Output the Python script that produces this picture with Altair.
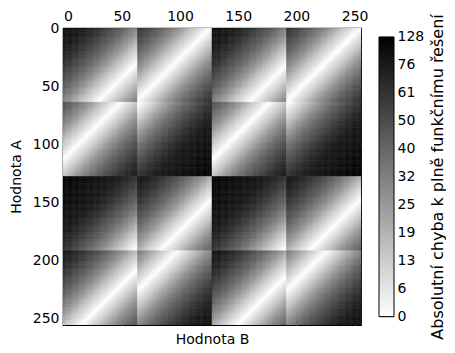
import json
import altair as alt
import pandas as pd

# ---- data -----------------------------------------------------------------
axis_ticks = [0, 50, 100, 150, 200, 250]
# the image is made of 4 x 4 blocks of 64 x 64 values
block_starts = [0, 64, 128, 192]
block_size = 64
cell = 2  # reading resolution (values per cell side), diagonal step = 2

# absolute error read along each block's diagonal, one value per step of
# (a_local + b_local) = 0-1, 2-3, ..., 126-127  (error is constant along "/" lines)
p_a = [92,90,88,86,84,82,80,78,76,74,72,70,68,66,64,62,60,58,56,54,52,50,48,46,44,42,40,38,36,34,32,30,28,26,24,22,20,18,16,14,12,10,8,6,4,2,0,2,4,6,8,10,12,14,16,18,20,22,24,26,28,30,32,34]
p_b = [61,59,57,55,53,51,49,47,45,43,41,39,37,35,33,31,29,27,25,23,21,19,17,15,13,11,9,7,5,3,1,1,3,5,7,9,11,13,15,17,19,21,23,25,27,29,31,33,35,37,39,41,43,45,47,49,51,53,55,57,59,61,63,65]
p_c = [94,92,90,88,86,84,82,80,78,76,74,72,70,68,66,64,62,60,58,56,54,52,50,48,46,44,42,40,38,36,34,32,30,28,26,24,22,20,18,16,14,12,10,8,6,4,2,0,2,4,6,8,10,12,14,16,18,20,22,24,26,28,30,32]
p_d = [62,60,58,56,54,52,50,48,46,44,42,40,38,36,34,32,30,28,26,24,22,20,18,16,14,12,10,8,6,4,2,0,2,4,6,8,10,12,14,16,18,20,22,24,26,28,30,32,34,36,38,40,42,44,46,48,50,52,54,56,58,60,62,64]
p_e = [48,46,44,42,40,38,36,34,32,30,28,26,24,22,20,18,16,14,12,10,8,6,4,2,0,2,4,6,8,10,12,14,16,18,20,22,24,26,28,30,32,34,36,38,40,42,44,46,48,50,52,54,56,58,60,62,64,66,68,70,72,74,76,78]
p_f = [1,1,3,5,7,9,11,13,15,17,19,21,23,25,27,29,31,33,35,37,39,41,43,45,47,49,51,53,55,57,59,61,63,65,67,69,71,73,75,77,79,81,83,85,87,89,91,93,95,97,99,101,103,105,107,109,111,113,115,117,119,121,123,125]
p_g = [123,121,119,117,115,113,111,109,107,105,103,101,99,97,95,93,91,89,87,85,83,81,79,77,75,73,71,69,67,65,63,61,59,57,55,53,51,49,47,45,43,41,39,37,35,33,31,29,27,25,23,21,19,17,15,13,11,9,7,5,3,1,1,3]
p_h = [82,80,78,76,74,72,70,68,66,64,62,60,58,56,54,52,50,48,46,44,42,40,38,36,34,32,30,28,26,24,22,20,18,16,14,12,10,8,6,4,2,0,2,4,6,8,10,12,14,16,18,20,22,24,26,28,30,32,34,36,38,40,42,44]
p_i = [78,76,74,72,70,68,66,64,62,60,58,56,54,52,50,48,46,44,42,40,38,36,34,32,30,28,26,24,22,20,18,16,14,12,10,8,6,4,2,0,2,4,6,8,10,12,14,16,18,20,22,24,26,28,30,32,34,36,38,40,42,44,46,48]
p_j = [33,31,29,27,25,23,21,19,17,15,13,11,9,7,5,3,1,1,3,5,7,9,11,13,15,17,19,21,23,25,27,29,31,33,35,37,39,41,43,45,47,49,51,53,55,57,59,61,63,65,67,69,71,73,75,77,79,81,83,85,87,89,91,93]
p_k = [84,82,80,78,76,74,72,70,68,66,64,62,60,58,56,54,52,50,48,46,44,42,40,38,36,34,32,30,28,26,24,22,20,18,16,14,12,10,8,6,4,2,0,2,4,6,8,10,12,14,16,18,20,22,24,26,28,30,32,34,36,38,40,42]

# rows: Hodnota A blocks 0-63, 64-127, 128-191, 192-255; columns: Hodnota B blocks
block_profiles = [
    [p_a, p_b, p_c, p_d],
    [p_e, p_f, p_e, p_f],
    [p_g, p_h, p_g, p_h],
    [p_i, p_j, p_k, p_j],
]

# colour bar (equally spaced labels)
cbar_values = [0, 6, 13, 19, 25, 32, 40, 50, 61, 76, 128]
cbar_labels = [str(v) for v in cbar_values]
cbar_greys = ["#ffffff", "#e6e6e6", "#cccccc", "#b3b3b3", "#999999", "#808080",
              "#666666", "#4d4d4d", "#333333", "#1a1a1a", "#000000"]

# ---- table: one cell per reading step ---------------------------------------
n = block_size // cell
rows = []
for r, a_start in enumerate(block_starts):
    for c, b_start in enumerate(block_starts):
        prof = block_profiles[r][c]
        for i in range(n):
            for j in range(n):
                a0 = a_start + i * cell - 0.5
                b0 = b_start + j * cell - 0.5
                rows.append({"a0": a0, "a1": a0 + cell, "b0": b0, "b1": b0 + cell,
                             "v": prof[min(i + j, len(prof) - 1)]})
cells = pd.DataFrame(rows)
tick_df = pd.DataFrame({"t": axis_ticks})

FONT = "DejaVu Sans"
xs = alt.Scale(domain=[-0.5, 255.5], nice=False, zero=False)
ys = alt.Scale(domain=[-0.5, 255.5], nice=False, zero=False, reverse=True)
cscale = alt.Scale(type="linear", domain=cbar_values, range=cbar_greys, interpolate="rgb")

heat = alt.Chart(cells).mark_rect(strokeWidth=0.5, clip=True).encode(
    x=alt.X("b0:Q", scale=xs, axis=alt.Axis(orient="top", values=axis_ticks, title=None,
                                            ticks=False, domain=False, labelPadding=5,
                                            labelFontSize=14, labelFont=FONT, labelColor="black")),
    x2="b1:Q",
    y=alt.Y("a0:Q", scale=ys, axis=alt.Axis(orient="left", values=axis_ticks, title="Hodnota A",
                                            ticks=False, domain=False, labelPadding=4,
                                            labelFontSize=14, labelFont=FONT, labelColor="black",
                                            titleFontSize=14, titleFont=FONT, titleFontWeight="normal",
                                            titleColor="black", titlePadding=9)),
    y2="a1:Q",
    color=alt.Color("v:Q", scale=cscale, legend=None),
    stroke=alt.Stroke("v:Q", scale=cscale, legend=None),
)

tick_axis = dict(offset=-5, tickSize=5, labels=False, domain=False, tickColor="black", tickWidth=1)
ticks_tl = alt.Chart(tick_df).mark_point(opacity=0).encode(
    x=alt.X("t:Q", scale=xs, axis=alt.Axis(orient="top", values=axis_ticks, title=None, **tick_axis)),
    y=alt.Y("t:Q", scale=ys, axis=alt.Axis(orient="left", values=axis_ticks, title=None, **tick_axis)),
)
ticks_br = alt.Chart(tick_df).mark_point(opacity=0).encode(
    x=alt.X("t:Q", scale=xs, axis=alt.Axis(orient="bottom", values=axis_ticks, title="Hodnota B",
                                           titleFontSize=14, titleFont=FONT, titleFontWeight="normal",
                                           titleColor="black", titlePadding=7, **tick_axis)),
    y=alt.Y("t:Q", scale=ys, axis=alt.Axis(orient="right", values=axis_ticks, title=None, **tick_axis)),
)

main = alt.layer(heat, ticks_tl, ticks_br).resolve_axis(x="independent", y="independent").properties(
    width=298, height=297, view=alt.ViewBackground(stroke="black", strokeWidth=1.2)
)

cbar_df = pd.DataFrame({"lo": [0], "hi": [len(cbar_values) - 1]})
grad = alt.LinearGradient(gradient="linear", x1=0, x2=0, y1=1, y2=0,
                          stops=[alt.GradientStop(color=cbar_greys[0], offset=0),
                                 alt.GradientStop(color=cbar_greys[-1], offset=1)])
cbar = alt.Chart(cbar_df).mark_rect(color=grad, stroke="black", strokeWidth=1).encode(
    y=alt.Y("lo:Q", scale=alt.Scale(domain=[-0.3, 10.32], nice=False, zero=False),
            axis=alt.Axis(orient="right", values=list(range(len(cbar_values))),
                          labelExpr=json.dumps(cbar_labels) + "[datum.value]",
                          ticks=False, domain=False, labelPadding=3, labelFontSize=14,
                          labelFont=FONT, labelColor="black",
                          title="Absolutní chyba k plně funkčnímu řešení", titleAngle=270,
                          titleFontSize=16, titleFont=FONT, titleFontWeight="normal",
                          titleColor="black", titlePadding=22)),
    y2="hi:Q",
).properties(width=15, height=297, view=alt.ViewBackground(stroke=None))

chart = alt.hconcat(main, cbar, spacing=18, bounds="flush").properties(
    padding={"left": 0, "top": 0, "right": 0, "bottom": 0}
).configure_axis(grid=False).configure(background="white")

chart.save("out.html", embed_options={"renderer": "svg", "actions": False})
